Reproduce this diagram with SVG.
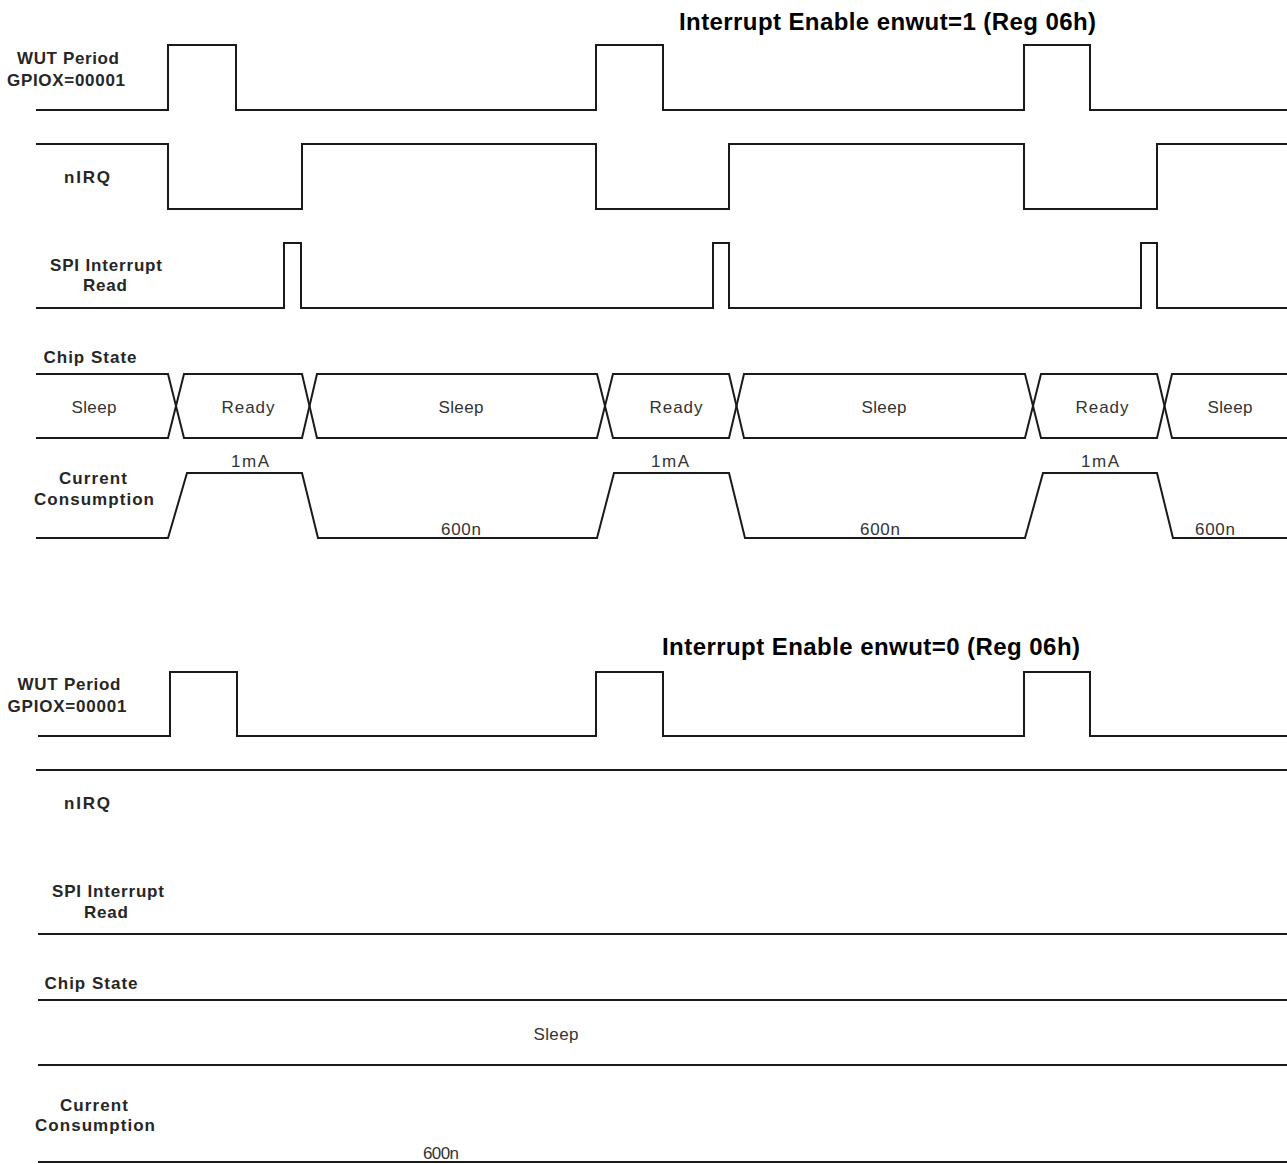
<svg xmlns="http://www.w3.org/2000/svg" width="1287" height="1164" viewBox="0 0 1287 1164">
<style>
.w{fill:none;stroke:#1a1a1a;stroke-width:2;stroke-linejoin:miter}
.t{font-family:"Liberation Sans",Arial,sans-serif;font-size:24px;font-weight:bold;fill:#000}
.l{font-family:"Liberation Sans",Arial,sans-serif;font-size:17px;font-weight:bold;fill:#262626;text-anchor:middle}
.v{font-family:"Liberation Sans",Arial,sans-serif;font-size:17px;fill:#333;text-anchor:middle}
</style>
<rect width="1287" height="1164" fill="#fff"/>
<g id="top-section">
<text class="t" x="679" y="30" textLength="417">Interrupt Enable enwut=1 (Reg 06h)</text>
<g id="top-wut">
<text class="l" x="68" y="64" textLength="102">WUT Period</text>
<text class="l" x="66" y="86" textLength="118">GPIOX=00001</text>
<path class="w" d="M36,110 H168 V45 H236 V110 H596 V45 H663 V110 H1024 V45 H1090 V110 H1287"/>
</g>
<g id="top-nirq">
<text class="l" x="87" y="183" textLength="46">nIRQ</text>
<path class="w" d="M36,144 H168 V209 H302 V144 H596 V209 H729 V144 H1024 V209 H1157 V144 H1287"/>
</g>
<g id="top-spi">
<text class="l" x="106" y="271" textLength="112">SPI Interrupt</text>
<text class="l" x="105" y="291" textLength="44">Read</text>
<path class="w" d="M36,308 H284 V243 H301 V308 H713 V243 H729 V308 H1141 V243 H1157 V308 H1287"/>
</g>
<g id="top-chip">
<text class="l" x="90" y="363" textLength="93">Chip State</text>
<path class="w" d="M36,374 H168 L184,438 H302 L317,374 H597 L613,438 H729 L744,374 H1025 L1041,438 H1157 L1172,374 H1287"/>
<path class="w" d="M36,438 H168 L184,374 H302 L317,438 H597 L613,374 H729 L744,438 H1025 L1041,374 H1157 L1172,438 H1287"/>
<text class="v" x="94" y="413" textLength="45">Sleep</text>
<text class="v" x="248" y="413" textLength="53">Ready</text>
<text class="v" x="461" y="413" textLength="45">Sleep</text>
<text class="v" x="676" y="413" textLength="53">Ready</text>
<text class="v" x="884" y="413" textLength="45">Sleep</text>
<text class="v" x="1102" y="413" textLength="53">Ready</text>
<text class="v" x="1230" y="413" textLength="45">Sleep</text>
</g>
<g id="top-current">
<text class="l" x="93" y="484" textLength="68">Current</text>
<text class="l" x="94" y="505" textLength="120">Consumption</text>
<path class="w" d="M36,538 H168 L187,473 H302 L318,538 H597 L614,473 H729 L745,538 H1025 L1043,473 H1157 L1173,538 H1287"/>
<path class="w" d="M36,538 H104" stroke-width="2.6"/>
<text class="v" x="250" y="467" textLength="38">1mA</text>
<text class="v" x="670" y="467" textLength="38">1mA</text>
<text class="v" x="1100" y="467" textLength="38">1mA</text>
<text class="v" x="461" y="535" textLength="40">600n</text>
<text class="v" x="880" y="535" textLength="40">600n</text>
<text class="v" x="1215" y="535" textLength="40">600n</text>
</g>
</g>
<g id="bottom-section">
<text class="t" x="662" y="655" textLength="418">Interrupt Enable enwut=0 (Reg 06h)</text>
<g id="bottom-wut">
<text class="l" x="69" y="690" textLength="103">WUT Period</text>
<text class="l" x="67" y="712" textLength="119">GPIOX=00001</text>
<path class="w" d="M38,736 H170 V672 H237 V736 H596 V672 H663 V736 H1024 V672 H1090 V736 H1287"/>
</g>
<g id="bottom-nirq">
<path class="w" d="M36,770 H1287"/>
<text class="l" x="87" y="809" textLength="46">nIRQ</text>
</g>
<g id="bottom-spi">
<text class="l" x="108" y="897" textLength="112">SPI Interrupt</text>
<text class="l" x="106" y="918" textLength="44">Read</text>
<path class="w" d="M38,934 H1287"/>
</g>
<g id="bottom-chip">
<text class="l" x="91" y="989" textLength="93">Chip State</text>
<path class="w" d="M38,1000 H1287"/>
<path class="w" d="M38,1065 H1287"/>
<text class="v" x="556" y="1040" textLength="45">Sleep</text>
</g>
<g id="bottom-current">
<text class="l" x="94" y="1111" textLength="68">Current</text>
<text class="l" x="95" y="1131" textLength="120">Consumption</text>
<text class="v" x="441" y="1159" textLength="36">600n</text>
<path class="w" d="M38,1162 H1287"/>
</g>
</g>
</svg>
